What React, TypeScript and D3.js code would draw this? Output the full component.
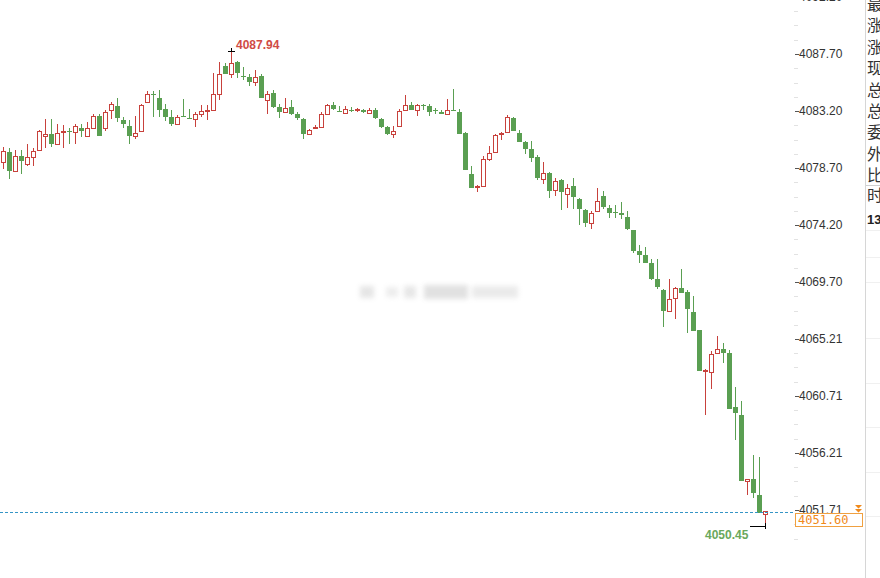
import React from 'react';
import * as d3 from 'd3';

// OHLC per minute bar
const opens = [
  4079.20, 4079.94, 4078.46, 4079.67, 4079.04, 4079.57, 4080.09, 4081.25, 4081.36, 4080.62,
  4081.54, 4081.59, 4081.52, 4081.88, 4081.20, 4081.83, 4082.78, 4081.83, 4083.25, 4083.62,
  4082.52, 4081.99, 4081.25, 4081.62, 4083.94, 4084.54, 4084.20, 4083.36, 4082.73, 4082.15,
  4082.80, 4082.65, 4082.57, 4082.99, 4083.23, 4083.25, 4084.57, 4086.73, 4086.09, 4087.09,
  4085.96, 4085.88, 4085.52, 4085.99, 4084.10, 4084.62, 4083.52, 4083.10, 4083.52, 4082.94,
  4082.57, 4081.36, 4081.91, 4081.94, 4082.99, 4083.67, 4083.17, 4083.04, 4083.28, 4083.28,
  4083.25, 4083.04, 4083.31, 4082.57, 4081.94, 4081.36, 4082.04, 4083.25, 4083.67, 4083.30,
  4083.65, 4083.62, 4083.28, 4083.15, 4082.94, 4083.28, 4083.15, 4081.46, 4078.20, 4077.25,
  4077.31, 4079.41, 4079.94, 4081.38, 4081.52, 4082.67, 4081.46, 4080.78, 4080.20, 4079.57,
  4077.83, 4078.31, 4076.99, 4077.78, 4076.62, 4077.31, 4076.25, 4075.38, 4074.38, 4075.28,
  4076.49, 4075.54, 4075.23, 4075.17, 4074.80, 4073.80, 4072.12, 4071.81, 4071.18, 4069.91,
  4069.07, 4067.39, 4068.44, 4069.23, 4068.91, 4067.34, 4065.91, 4062.68, 4062.60, 4064.07,
  4064.44, 4064.07, 4059.81, 4059.23, 4053.97, 4054.13, 4052.87, 4051.40,
];
const highs = [
  4080.38, 4080.30, 4080.09, 4080.09, 4080.57, 4080.25, 4081.73, 4082.57, 4082.57, 4082.15,
  4082.09, 4081.83, 4082.15, 4082.15, 4082.36, 4082.94, 4082.99, 4083.25, 4083.88, 4084.20,
  4082.73, 4082.46, 4082.83, 4083.72, 4084.78, 4084.78, 4084.83, 4083.78, 4083.30, 4082.88,
  4084.15, 4083.36, 4083.15, 4083.67, 4083.67, 4086.20, 4087.04, 4086.99, 4087.94, 4087.15,
  4086.67, 4086.09, 4086.46, 4086.15, 4084.78, 4084.88, 4083.78, 4084.20, 4084.04, 4083.15,
  4082.67, 4081.78, 4082.10, 4083.10, 4083.78, 4083.94, 4083.62, 4083.57, 4083.52, 4083.46,
  4083.36, 4083.46, 4083.41, 4082.62, 4082.04, 4081.99, 4083.36, 4084.46, 4083.94, 4083.72,
  4083.78, 4083.72, 4083.46, 4083.30, 4084.15, 4084.93, 4083.36, 4081.52, 4078.89, 4077.36,
  4079.62, 4080.41, 4081.41, 4081.57, 4082.88, 4082.73, 4081.67, 4080.83, 4080.83, 4079.73,
  4079.15, 4078.36, 4077.89, 4077.83, 4077.41, 4077.89, 4076.31, 4075.49, 4075.28, 4077.12,
  4076.86, 4075.80, 4075.75, 4076.01, 4075.28, 4073.80, 4072.59, 4072.44, 4071.49, 4071.54,
  4069.12, 4069.96, 4069.28, 4070.70, 4069.07, 4068.60, 4065.91, 4062.86, 4064.23, 4065.44,
  4064.92, 4064.34, 4061.44, 4060.34, 4054.13, 4056.08, 4055.87, 4051.62,
];
const lows = [
  4078.62, 4077.80, 4078.40, 4078.25, 4078.83, 4078.88, 4080.09, 4080.30, 4080.38, 4080.57,
  4080.25, 4080.62, 4080.57, 4081.15, 4081.20, 4081.83, 4081.25, 4081.62, 4082.57, 4082.30,
  4081.88, 4080.62, 4080.99, 4081.62, 4083.88, 4082.73, 4082.73, 4082.41, 4082.04, 4082.09,
  4082.75, 4082.54, 4081.94, 4082.73, 4082.47, 4083.25, 4084.10, 4086.09, 4085.83, 4085.78,
  4085.62, 4085.15, 4085.15, 4084.20, 4082.94, 4083.41, 4082.62, 4083.10, 4082.89, 4082.47,
  4080.99, 4081.36, 4081.83, 4081.94, 4082.99, 4083.25, 4083.10, 4082.99, 4083.10, 4083.10,
  4083.04, 4082.99, 4082.57, 4081.83, 4081.31, 4081.09, 4082.04, 4083.25, 4083.30, 4082.83,
  4083.25, 4082.83, 4082.94, 4082.94, 4082.94, 4083.20, 4081.41, 4078.57, 4077.10, 4076.78,
  4077.31, 4079.25, 4079.94, 4080.88, 4081.52, 4081.62, 4080.73, 4079.78, 4079.20, 4077.73,
  4077.47, 4076.36, 4076.47, 4075.41, 4075.57, 4075.47, 4074.20, 4074.07, 4073.91, 4075.23,
  4075.44, 4074.75, 4074.75, 4074.70, 4073.80, 4072.02, 4071.23, 4071.18, 4069.86, 4069.12,
  4066.12, 4067.39, 4066.76, 4068.86, 4065.65, 4065.86, 4062.71, 4059.18, 4061.23, 4064.07,
  4063.34, 4059.66, 4057.24, 4053.97, 4052.87, 4052.66, 4051.50, 4050.45,
];
const closes = [
  4080.04, 4078.46, 4079.67, 4079.25, 4079.60, 4080.04, 4081.62, 4081.36, 4080.62, 4081.44,
  4081.59, 4081.54, 4081.99, 4081.62, 4081.88, 4082.83, 4081.25, 4083.15, 4083.72, 4082.62,
  4082.15, 4081.25, 4081.44, 4083.67, 4084.51, 4084.49, 4083.30, 4082.73, 4082.15, 4082.73,
  4082.75, 4082.59, 4082.94, 4083.20, 4083.28, 4084.52, 4086.15, 4086.15, 4086.99, 4086.20,
  4085.91, 4085.46, 4085.88, 4084.20, 4084.57, 4083.52, 4083.10, 4083.46, 4082.94, 4082.62,
  4081.41, 4081.68, 4081.97, 4082.99, 4083.67, 4083.36, 4083.12, 4083.36, 4083.23, 4083.33,
  4083.10, 4083.31, 4082.62, 4081.94, 4081.41, 4081.62, 4083.20, 4083.67, 4083.30, 4083.67,
  4083.59, 4083.15, 4083.22, 4082.94, 4083.30, 4083.20, 4081.41, 4078.57, 4077.15, 4077.31,
  4079.41, 4079.88, 4081.30, 4081.44, 4082.73, 4081.62, 4080.78, 4080.20, 4079.52, 4077.94,
  4078.31, 4076.89, 4077.67, 4076.78, 4077.15, 4076.41, 4075.47, 4074.38, 4075.12, 4076.07,
  4075.65, 4075.17, 4075.17, 4074.96, 4073.86, 4072.12, 4071.81, 4071.23, 4069.97, 4069.28,
  4067.39, 4068.33, 4069.23, 4068.86, 4067.60, 4065.86, 4062.71, 4062.73, 4064.02, 4064.44,
  4064.13, 4059.66, 4059.39, 4053.97, 4054.13, 4053.03, 4051.50, 4051.60,
];

const tickLabels = ['4092.20', '4087.70', '4083.20', '4078.70', '4074.20', '4069.70', '4065.21', '4060.71', '4056.21', '4051.71'];
const lastPrice = 4051.60;
const dayHigh = 4087.94;
const dayLow = 4050.45;
const sideLabels = ['最', '涨', '涨', '现', '总', '总', '委', '外', '比'];

const RED = '#c8413c';
const GREEN = '#5a9f52';

export default function App() {
  const width = 880, height = 578;
  const n = opens.length;
  const x = d3.scaleLinear().domain([0, n - 1]).range([3, 765]);
  const y = d3.scaleLinear().domain([4051.71, 4087.70]).range([510, 54]);

  const hiIdx = highs.indexOf(d3.max(highs)!);
  const loIdx = lows.indexOf(d3.min(lows)!);

  // minor tick marks between labels
  const minor: number[] = [];
  for (let k = 0; k < tickLabels.length - 1; k++) {
    const a = +tickLabels[k], b = +tickLabels[k + 1];
    for (let j = 1; j < 4; j++) minor.push(a + (b - a) * j / 4);
  }
  minor.push(4051.71 - (4056.21 - 4051.71) / 4);
  minor.push(4051.71 - (4056.21 - 4051.71) / 2);

  const candles = opens.map((o, i) => {
    const c = closes[i];
    const up = c >= o;
    const cx = x(i);
    const top = Math.round(y(Math.max(o, c)));
    const bot = Math.round(y(Math.min(o, c)));
    const hy = Math.round(y(highs[i]));
    const ly = Math.round(y(lows[i]));
    const col = up ? RED : GREEN;
    const h = bot - top;
    return (
      <g key={i}>
        {up ? (
          <>
            <line x1={cx + 0.5} x2={cx + 0.5} y1={hy} y2={top} stroke={col} />
            <line x1={cx + 0.5} x2={cx + 0.5} y1={bot} y2={ly} stroke={col} />
            {h >= 2 ? (
              <rect x={cx - 1.5} y={top + 0.5} width={4} height={h} fill="#fff" stroke={col} />
            ) : (
              <rect x={cx - 2} y={top} width={5} height={Math.max(h, 1) + 1} fill={col} />
            )}
          </>
        ) : (
          <>
            <line x1={cx + 0.5} x2={cx + 0.5} y1={hy} y2={ly} stroke={col} />
            <rect x={cx - 2} y={top} width={5} height={Math.max(h, 1)} fill={col} />
          </>
        )}
      </g>
    );
  });

  const hx = x(hiIdx), hy = Math.round(y(dayHigh));
  const lx = x(loIdx), ly = Math.round(y(dayLow));
  const lastY = Math.round(y(lastPrice)) + 1.5;

  return (
    <svg width={width} height={height} style={{ position: 'absolute', left: 0, top: 0, background: '#fff' }}
      fontFamily="'Liberation Sans', Arial, sans-serif">
      <defs>
        <filter id="blur" x="-20%" y="-50%" width="140%" height="200%">
          <feGaussianBlur stdDeviation="2.6" />
        </filter>
      </defs>

      {/* blurred watermark */}
      <g filter="url(#blur)" opacity={0.45}>
        <rect x={360} y={286} width={14} height={12} fill="#c8c8c8" />
        <rect x={386} y={287} width={12} height={10} fill="#d8d8d8" />
        <rect x={404} y={286} width={12} height={12} fill="#cacaca" />
        <rect x={424} y={285} width={44} height={14} fill="#bdbdbd" />
        <rect x={472} y={286} width={46} height={12} fill="#d2d2d2" />
      </g>

      {candles}

      {/* high marker */}
      <line x1={hx - 3} x2={hx + 4} y1={hy + 0.5} y2={hy + 0.5} stroke="#000" />
      <line x1={hx + 0.5} x2={hx + 0.5} y1={hy - 3} y2={hy} stroke="#000" />
      <text x={236} y={49} fill="#d04b45" fontSize={12} fontWeight="bold">{dayHigh.toFixed(2)}</text>

      {/* low marker */}
      <line x1={lx - 15} x2={lx + 1} y1={ly + 0.5} y2={ly + 0.5} stroke="#000" />
      <line x1={lx + 0.5} x2={lx + 0.5} y1={ly - 3} y2={ly + 3} stroke="#000" />
      <text x={705} y={539} fill="#6aa85c" fontSize={12} fontWeight="bold">{dayLow.toFixed(2)}</text>

      {/* last price line */}
      <line x1={0} x2={795} y1={lastY} y2={lastY} stroke="#3595c6" strokeDasharray="3,2" />

      {/* right axis */}
      {minor.map((v, i) => (
        <line key={'m' + i} x1={794} x2={798} y1={Math.round(y(v)) + 0.5} y2={Math.round(y(v)) + 0.5} stroke="#e2e2e2" />
      ))}
      {tickLabels.map((t) => (
        <g key={t}>
          <line x1={795} x2={799} y1={Math.round(y(+t)) + 0.5} y2={Math.round(y(+t)) + 0.5} stroke="#555" />
          <text x={799} y={y(+t) + 4} fontSize={12} fill="#333">{t}</text>
        </g>
      ))}

      {/* last price tag */}
      <path d={`M855,505 h7 l-3.5,3.5 z M855,509 h7 l-3.5,3.5 z`} fill="#f08a1c" />
      <rect x={795.5} y={513.5} width={67} height={13} fill="#fff" stroke="#f0a040" />
      <text x={798} y={524} fontSize={12} fill="#f08a1c" fontFamily="'DejaVu Sans Mono', 'Liberation Mono', monospace">{lastPrice.toFixed(2)}</text>

      {/* side panel */}
      <line x1={865.5} x2={865.5} y1={0} y2={height} stroke="#d6d6d6" />
      {sideLabels.map((s, i) => (
        <text key={'s' + i} x={867} y={10 + i * 21.4} fontSize={16} fill="#333"
          fontFamily="'Noto Sans CJK SC', sans-serif">{s}</text>
      ))}
      <line x1={866} x2={880} y1={185.5} y2={185.5} stroke="#cfcfcf" />
      <text x={867} y={201} fontSize={16} fill="#333" fontFamily="'Noto Sans CJK SC', sans-serif">时</text>
      <text x={867} y={224} fontSize={13} fontWeight="bold" fill="#222">13</text>
      {[230, 257, 282, 338, 383, 427, 472, 516].map((v) => (
        <line key={'r' + v} x1={866} x2={880} y1={v + 0.5} y2={v + 0.5} stroke="#f0f0f0" />
      ))}
    </svg>
  );
}
